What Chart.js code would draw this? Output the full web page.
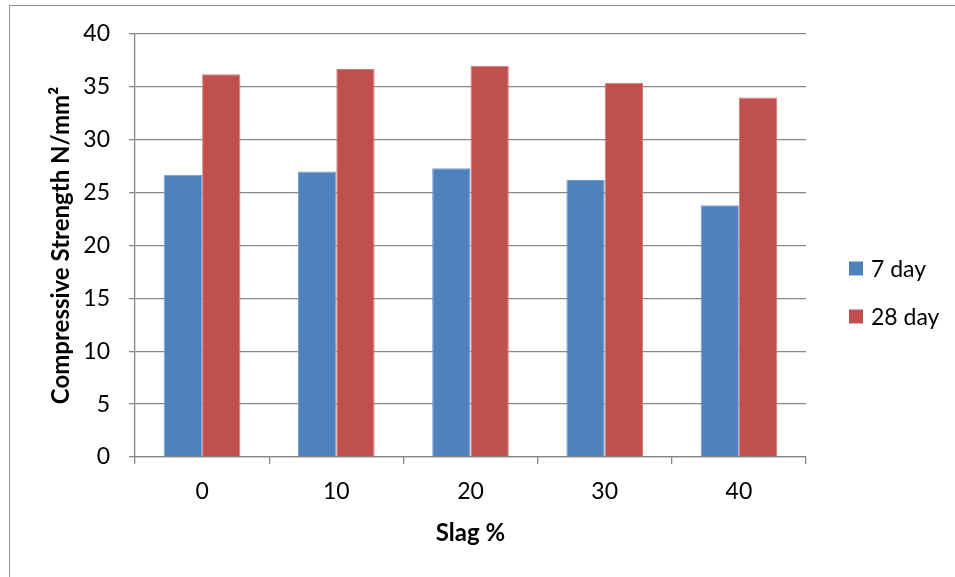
<!DOCTYPE html>
<html>
<head>
<meta charset="utf-8">
<script src="https://cdn.jsdelivr.net/npm/chart.js@4"></script>
<style>
  html, body { margin: 0; padding: 0; background: #ffffff; }
  canvas { display: block; }
</style>
</head>
<body>
<canvas id="chart" width="955" height="577"></canvas>
<script>
// Slag replacement levels (%) and compressive strength results (N/mm²)
const slagLevels = ['0', '10', '20', '30', '40'];
const strength7Day = [26.7, 27.0, 27.3, 26.2, 23.8];
const strength28Day = [36.2, 36.7, 37.0, 35.4, 34.0];
const seriesNames = ['7 day', '28 day'];
const yAxisTitle = 'Compressive Strength N/mm²';
const xAxisTitle = 'Slag %';

const FONT = 'Lato, "Open Sans", sans-serif';
const AXIS_GREY = '#868686';

// Frame around the whole chart
const framePlugin = {
  id: 'frame',
  beforeDraw(chart) {
    const ctx = chart.ctx;
    ctx.save();
    ctx.fillStyle = '#ffffff';
    ctx.fillRect(0, 0, chart.width, chart.height);
    ctx.strokeStyle = '#8c8c8c';
    ctx.lineWidth = 1;
    ctx.strokeRect(9.5, 5.5, chart.width + 20, chart.height + 20);
    ctx.restore();
  }
};

// Legend on the right, square swatches followed by series names
const sideLegend = {
  id: 'sideLegend',
  afterDraw(chart) {
    const ctx = chart.ctx;
    const x = 849;
    const rows = [268.5, 316.5];
    ctx.save();
    ctx.font = '23px ' + FONT;
    ctx.textBaseline = 'middle';
    ctx.textAlign = 'left';
    chart.data.datasets.forEach((ds, i) => {
      const cy = rows[i];
      ctx.fillStyle = ds.backgroundColor;
      ctx.fillRect(x, cy - 7, 14, 14);
      ctx.fillStyle = '#000000';
      ctx.fillText(ds.label, x + 22, cy + 1);
    });
    ctx.restore();
  }
};

new Chart(document.getElementById('chart'), {
  type: 'bar',
  data: {
    labels: slagLevels,
    datasets: [
      {
        label: seriesNames[0],
        data: strength7Day,
        backgroundColor: '#4F81BD',
        borderColor: '#7a9ed0',
        borderWidth: 1
      },
      {
        label: seriesNames[1],
        data: strength28Day,
        backgroundColor: '#C0504D',
        borderColor: '#d47e7b',
        borderWidth: 1
      }
    ]
  },
  options: {
    responsive: false,
    animation: false,
    devicePixelRatio: 1,
    layout: { padding: { top: 34, right: 149, left: 0, bottom: 0 } },
    datasets: {
      bar: { categoryPercentage: 0.571, barPercentage: 1.0 }
    },
    plugins: {
      legend: { display: false },
      tooltip: { enabled: false }
    },
    scales: {
      x: {
        offset: true,
        grid: {
          drawOnChartArea: false,
          drawTicks: true,
          tickLength: 7,
          color: AXIS_GREY,
          lineWidth: 1.3
        },
        border: { color: AXIS_GREY, width: 1.3 },
        ticks: {
          color: '#000000',
          font: { family: FONT, size: 23 },
          padding: 14
        },
        title: {
          display: true,
          text: xAxisTitle,
          color: '#000000',
          font: { family: FONT, size: 24, weight: 'bold' },
          padding: { top: 0, bottom: 29 }
        },
        afterFit(scale) { scale.height = 577 - 457; }
      },
      y: {
        min: 0,
        max: 40,
        ticks: {
          stepSize: 5,
          color: '#000000',
          font: { family: FONT, size: 23 },
          padding: 19
        },
        grid: {
          color: AXIS_GREY,
          lineWidth: 1.3,
          tickLength: 6
        },
        border: { color: AXIS_GREY, width: 1.3 },
        title: {
          display: true,
          text: yAxisTitle,
          color: '#000000',
          font: { family: FONT, size: 24, weight: 'bold' },
          padding: { top: 47, bottom: 0 }
        },
        afterFit(scale) { scale.width = 135; }
      }
    }
  },
  plugins: [framePlugin, sideLegend]
});
</script>
</body>
</html>
